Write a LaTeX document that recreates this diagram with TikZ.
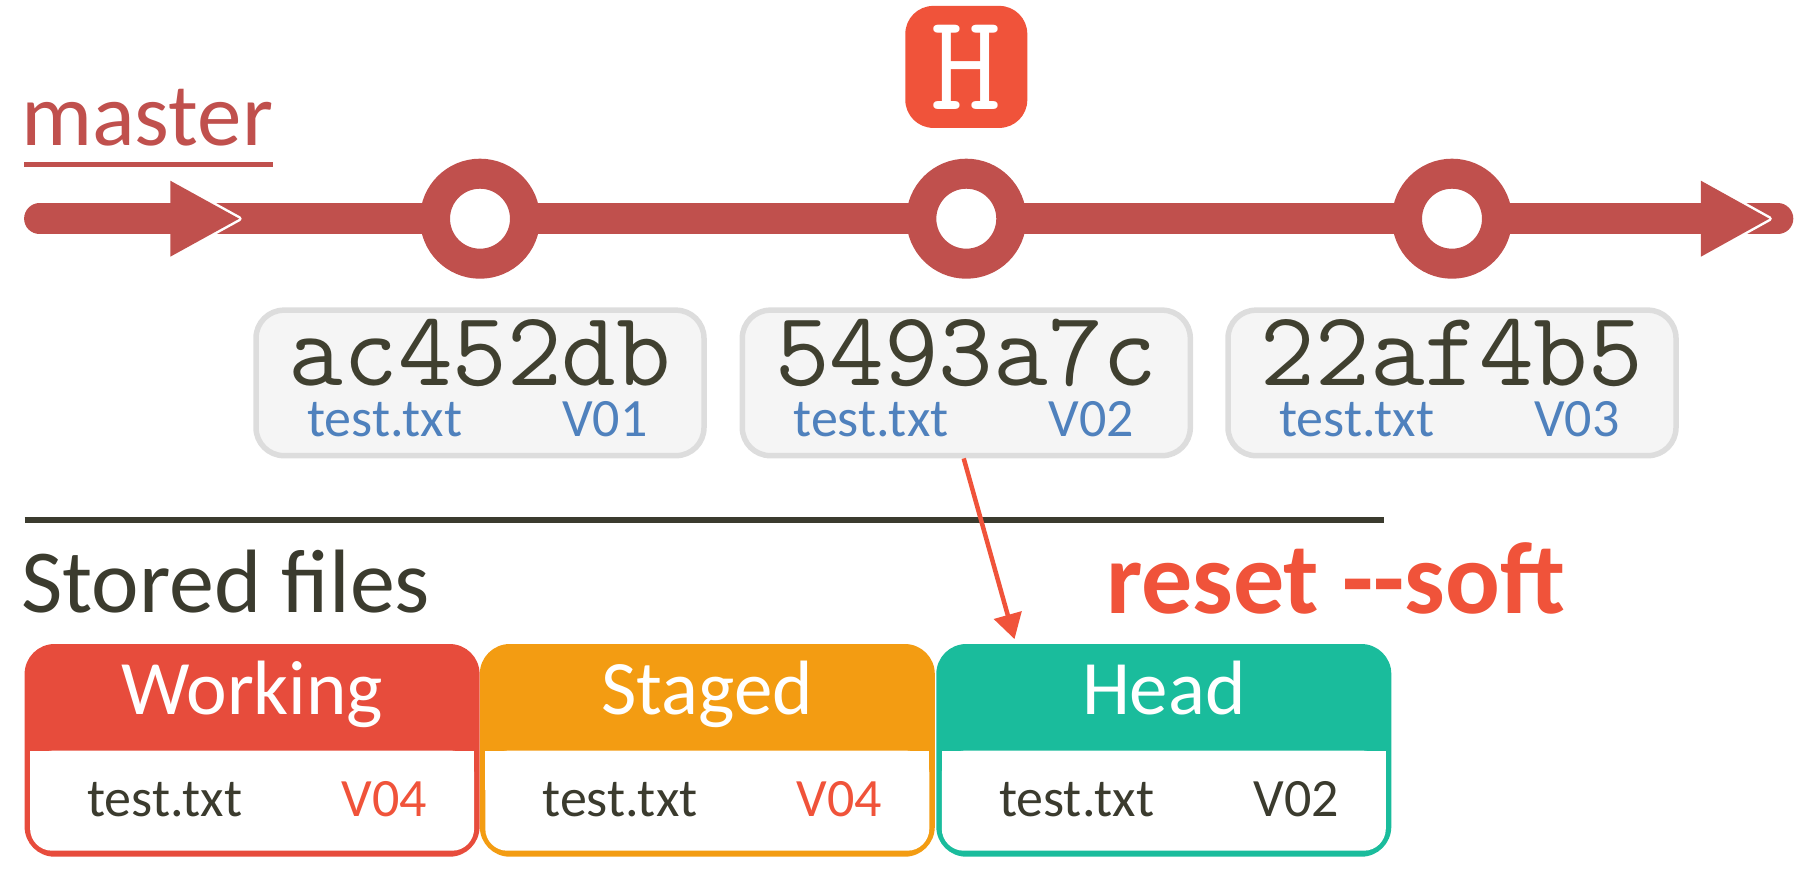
\documentclass[tikz,border=0pt]{standalone}
\usepackage{fontspec}
\setmainfont{Carlito}
\usetikzlibrary{arrows.meta}

\definecolor{tlred}{HTML}{C0504D}
\definecolor{hot}{HTML}{F0533A}
\definecolor{cwork}{HTML}{E74C3C}
\definecolor{cstaged}{HTML}{F39C12}
\definecolor{chead}{HTML}{1ABC9C}
\definecolor{ink}{HTML}{3B3B2E}
\definecolor{hashink}{HTML}{404030}
\definecolor{fileblue}{HTML}{4F81BD}
\definecolor{boxgray}{HTML}{DDDDDD}
\definecolor{boxfill}{HTML}{F5F5F5}

\newcommand\hashfnt{\ttfamily\fontsize{106}{110}\selectfont\addfontfeatures{FakeBold=1.6}}
\newcommand\markfnt{\ttfamily\fontsize{138}{140}\selectfont\addfontfeatures{FakeBold=1.6}}

\tikzset{
  timeline/.style={line width=31pt, draw=tlred, line cap=round},
  commit/.style={circle, draw=tlred, line width=30pt, fill=white, minimum size=90pt, inner sep=0pt},
  hashbox/.style={rectangle, rounded corners=28pt, draw=boxgray, line width=5.5pt, fill=boxfill,
    minimum width=448pt, minimum height=145.5pt, inner sep=0pt},
  hashtxt/.style={inner sep=0pt, anchor=base, text=hashink, font=\hashfnt},
  smalltxt/.style={inner sep=0pt, font=\fontsize{54}{60}\selectfont},
  filebox/.style={rectangle, rounded corners=30pt, minimum width=455pt, minimum height=212.7pt, inner sep=0pt},
  hdrtxt/.style={inner sep=0pt, anchor=base, text=white, font=\fontsize{77}{80}\selectfont},
  hmark/.style={rectangle, rounded corners=28pt, fill=hot, minimum width=122pt, minimum height=122pt,
    inner sep=0pt, text=white, font=\markfnt},
  resetarrow/.style={draw=hot, line width=4.5pt, -{Triangle[length=25pt, width=28pt]}},
}

\begin{document}
\begin{tikzpicture}[x=1pt, y=-1pt]
\useasboundingbox (0,0) rectangle (1806,875);

% branch label
\node[inner sep=0pt, anchor=base west, text=tlred, font=\fontsize{89}{90}\selectfont] (master) at (21,145.7) {master};
\fill[tlred] (24,161.7) rectangle (273,166.7);

% timeline
\coordinate (tlstart) at (39.6,218.7);
\coordinate (tlend) at (1777.8,218.7);
\draw[timeline] (tlstart) -- (tlend);

% direction arrowheads on the timeline
\foreach \bx/\tx in {170.3/239.2, 1700.9/1769.3}{
  \draw[white, line width=5pt, line join=round] (\bx,180.7) -- (\tx,218.7) -- (\bx,256.7);
  \fill[tlred] (\bx,180.7) -- (\tx,218.7) -- (\bx,256.7) -- cycle;
}

% commits
\node[commit] (c1) at (480,218.7) {};
\node[commit] (c2) at (966.3,218.7) {};
\node[commit] (c3) at (1452,218.7) {};

% HEAD marker
\node[hmark] (hm) at (966.3,66.9) {H};

% commit cards
\node[hashbox] (b1) at (480,382.9) {};
\node[hashbox] (b2) at (966.3,382.9) {};
\node[hashbox] (b3) at (1452,382.9) {};

\node[hashtxt] (h1) at (480,385.5) {ac452db};
\node[hashtxt] (h2) at (966.3,385.5) {5493a7c};
\node[hashtxt] (h3) at (1452,385.5) {22af4b5};

\node[smalltxt, anchor=base west, text=fileblue] (f1) at (307,436) {test.txt};
\node[smalltxt, anchor=base west, text=fileblue] (v1) at (562,436) {V01};
\node[smalltxt, anchor=base west, text=fileblue] (f2) at (793.3,436) {test.txt};
\node[smalltxt, anchor=base west, text=fileblue] (v2) at (1048.3,436) {V02};
\node[smalltxt, anchor=base west, text=fileblue] (f3) at (1279,436) {test.txt};
\node[smalltxt, anchor=base west, text=fileblue] (v3) at (1534,436) {V03};

% separator
\draw[ink, line width=6pt] (24.6,519.7) -- (1384.4,519.7);

\node[inner sep=0pt, anchor=base west, text=ink, font=\fontsize{90}{92}\selectfont] (stored) at (21,612.7) {Stored files};
\node[inner sep=0pt, anchor=base west, text=hot, font=\bfseries\fontsize{102}{104}\selectfont] (reset) at (1106,613.3) {reset -{}-soft};

% stored file boxes
\node[filebox, fill=cwork] (work) at (252.1,750.35) {};
\fill[white, rounded corners=22pt] (30.1,750.7) rectangle (474.1,850.7);
\fill[white] (30.1,750.7) rectangle (474.1,790);
\node[hdrtxt] (worktitle) at (252.1,714.3) {Working};
\node[smalltxt, anchor=base west, text=ink] (workfile) at (87.1,816.7) {test.txt};
\node[smalltxt, anchor=base east, text=hot] (workver) at (427.3,816.7) {V04};

\node[filebox, fill=cstaged] (staged) at (707.3,750.35) {};
\fill[white, rounded corners=22pt] (485.3,750.7) rectangle (929.3,850.7);
\fill[white] (485.3,750.7) rectangle (929.3,790);
\node[hdrtxt] (stagedtitle) at (707.3,714.3) {Staged};
\node[smalltxt, anchor=base west, text=ink] (stagedfile) at (542.3,816.7) {test.txt};
\node[smalltxt, anchor=base east, text=hot] (stagedver) at (882.5,816.7) {V04};

\node[filebox, fill=chead] (headbox) at (1163.8,750.35) {};
\fill[white, rounded corners=22pt] (941.8,750.7) rectangle (1385.8,850.7);
\fill[white] (941.8,750.7) rectangle (1385.8,790);
\node[hdrtxt] (headtitle) at (1163.8,714.3) {Head};
\node[smalltxt, anchor=base west, text=ink] (headfile) at (998.8,816.7) {test.txt};
\node[smalltxt, anchor=base east, text=ink] (headver) at (1339,816.7) {V02};

% reset moves the head contents
\draw[resetarrow] ([xshift=-2.6pt]b2.south) -- ([xshift=78.4pt, yshift=4.7pt]headbox.north west);
\end{tikzpicture}
\end{document}
